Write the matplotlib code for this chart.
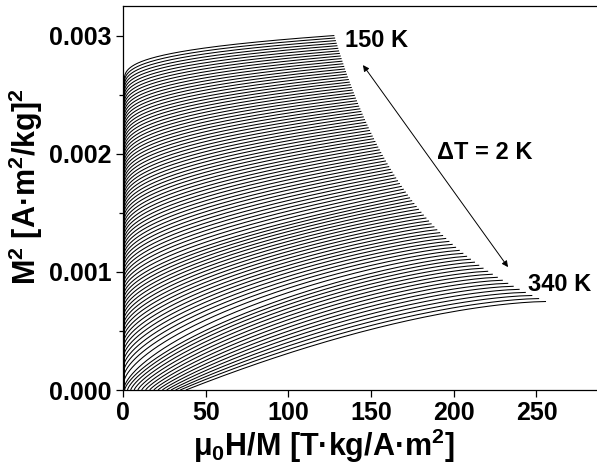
import numpy as np
import matplotlib
matplotlib.use("Agg")
import matplotlib.pyplot as plt
from matplotlib.ticker import FixedLocator, MultipleLocator

plt.rcParams['font.family'] = ['Liberation Sans', 'DejaVu Sans']
plt.rcParams['font.weight'] = 'bold'
plt.rcParams['mathtext.fontset'] = 'custom'
plt.rcParams['mathtext.rm'] = 'Liberation Sans:bold'
plt.rcParams['mathtext.it'] = 'Liberation Sans:bold'
plt.rcParams['mathtext.bf'] = 'Liberation Sans:bold'

# ---------------- data ----------------
temps_K = list(range(150, 342, 2))          # 96 isotherms, dT = 2 K
mu0H_max_T = 7.0                            # last field point of every isotherm

# M^2 at 7 T  [1e-4 (A m2/kg)^2]
m2_7T = [30.00, 29.79, 29.57, 29.35, 29.14, 28.92, 28.70, 28.49, 28.27, 28.05,
         27.83, 27.61, 27.39, 27.17, 26.95, 26.73, 26.50, 26.28, 26.06, 25.84,
         25.61, 25.39, 25.16, 24.94, 24.71, 24.48, 24.26, 24.03, 23.80, 23.58,
         23.35, 23.12, 22.89, 22.66, 22.43, 22.20, 21.97, 21.73, 21.50, 21.27,
         21.04, 20.80, 20.57, 20.33, 20.10, 19.86, 19.63, 19.39, 19.15, 18.91,
         18.68, 18.44, 18.20, 17.96, 17.72, 17.48, 17.24, 17.00, 16.76, 16.51,
         16.27, 16.03, 15.79, 15.54, 15.30, 15.05, 14.81, 14.56, 14.31, 14.07,
         13.82, 13.57, 13.32, 13.08, 12.83, 12.58, 12.33, 12.08, 11.82, 11.57,
         11.32, 11.07, 10.82, 10.56, 10.31, 10.05, 9.80, 9.54, 9.29, 9.03,
         8.78, 8.52, 8.26, 8.00, 7.74, 7.49]

# M^2 where the isotherm leaves the H/M ~ 0 axis  [1e-4 (A m2/kg)^2]
m2_start = [26.00, 25.72, 25.44, 25.16, 24.88, 24.60, 24.32, 24.03, 23.75, 23.47,
            23.18, 22.90, 22.61, 22.33, 22.04, 21.75, 21.46, 21.18, 20.89, 20.60,
            20.30, 20.01, 19.72, 19.43, 19.13, 18.84, 18.54, 18.25, 17.95, 17.65,
            17.35, 17.05, 16.75, 16.45, 16.15, 15.84, 15.54, 15.23, 14.93, 14.62,
            14.31, 14.00, 13.69, 13.37, 13.06, 12.74, 12.43, 12.11, 11.79, 11.47,
            11.14, 10.82, 10.49, 10.16, 9.83, 9.50, 9.17, 8.83, 8.49, 8.15,
            7.81, 7.46, 7.11, 6.76, 6.41, 6.05, 5.68, 5.32, 4.95, 4.57,
            4.19, 3.80, 3.40, 3.00, 2.59, 2.16, 1.72, 1.26, 0.76, 0.19,
            0, 0, 0, 0, 0, 0, 0, 0, 0, 0, 0, 0, 0, 0, 0, 0]

# H/M where the isotherm leaves M^2 = 0  [T kg / A m2]
hm_start = [0] * 80 + [0.98, 2.72, 4.67, 6.78, 9.01, 11.32, 13.70, 16.15,
                       18.66, 21.2, 23.8, 26.4, 29.1, 31.8, 34.6, 38.0]

# curvature of each isotherm (knee sharpness)
shape_k = [0.320, 0.325, 0.329, 0.334, 0.338, 0.343, 0.347, 0.352, 0.356, 0.361,
           0.365, 0.370, 0.374, 0.379, 0.383, 0.388, 0.392, 0.397, 0.401, 0.406,
           0.410, 0.415, 0.419, 0.424, 0.428, 0.433, 0.437, 0.442, 0.446, 0.451,
           0.455, 0.460, 0.464, 0.469, 0.473, 0.478, 0.482, 0.487, 0.491, 0.496,
           0.500, 0.505, 0.509, 0.514, 0.518, 0.523, 0.527, 0.532, 0.536, 0.541,
           0.545, 0.550, 0.554, 0.559, 0.563, 0.568, 0.572, 0.577, 0.581, 0.586,
           0.590, 0.595, 0.599, 0.604, 0.608, 0.613, 0.617, 0.622, 0.626, 0.631,
           0.635, 0.640, 0.644, 0.649, 0.653, 0.658, 0.662, 0.667, 0.671, 0.676,
           0.70, 0.72, 0.74, 0.76, 0.78, 0.80, 0.82, 0.84, 0.86, 0.88,
           0.90, 0.92, 0.94, 0.96, 0.98, 1.00]
shape_m = [1.0] * 60 + [1.015, 1.03, 1.045, 1.06, 1.075, 1.09, 1.105, 1.12, 1.135, 1.15,
                        1.165, 1.18, 1.195, 1.21, 1.225, 1.24, 1.255, 1.27, 1.285, 1.30,
                        1.30, 1.32, 1.34, 1.36, 1.38, 1.40, 1.42, 1.44, 1.46, 1.48,
                        1.50, 1.52, 1.54, 1.56, 1.58, 1.60]

x_ticks = [0, 50, 100, 150, 200, 250]
y_ticks = [0.000, 0.001, 0.002, 0.003]

# ---------------- figure ----------------
fig = plt.figure(figsize=(5.97, 4.72), dpi=100)
ax = fig.add_axes([123 / 597, 82 / 472, 1 - 123 / 597, 384 / 472])

t = np.concatenate([[0.0], np.geomspace(1e-6, 1.0, 400)])
for T, ye4, ys4, xs, k, m in zip(temps_K, m2_7T, m2_start, hm_start, shape_k, shape_m):
    ye = ye4 * 1e-4
    ys = ys4 * 1e-4
    xe = mu0H_max_T / np.sqrt(ye)
    x0 = xs if xs > 0 else 0.7
    f = 1.0 - (1.0 - t ** k) ** m
    x = x0 + t * (xe - x0)
    y = ys + (ye - ys) * f
    if ys > 0:
        x = np.concatenate([[x0], x])
        y = np.concatenate([[0.0], y])
    ax.plot(x, y, color='black', lw=0.75, solid_capstyle='butt')

ax.set_xlim(0, 286.6)
ax.set_ylim(0, 0.00325)
ax.xaxis.set_major_locator(FixedLocator(x_ticks))
ax.yaxis.set_major_locator(FixedLocator(y_ticks))
ax.yaxis.set_minor_locator(MultipleLocator(0.0005))
ax.set_yticklabels(['%.3f' % v for v in y_ticks])
ax.set_xticklabels([str(v) for v in x_ticks])
ax.tick_params(axis='both', which='major', direction='out', length=5, width=0.9,
               labelsize=18, pad=3)
ax.tick_params(axis='y', which='minor', direction='out', length=3, width=0.9)
for lab in ax.get_xticklabels() + ax.get_yticklabels():
    lab.set_fontweight('bold')
ax.spines['right'].set_visible(False)
for s in ('left', 'bottom', 'top'):
    ax.spines[s].set_linewidth(0.9)

ax.set_xlabel('\u03bc$_0$H/M [T\u00b7kg/A\u00b7m$^2$]', fontsize=22, fontweight='bold')
ax.set_ylabel('M$^2$ [A\u00b7m$^2$/kg]$^2$', fontsize=22, fontweight='bold')
ax.xaxis.set_label_coords(0.423, -0.096)
ax.yaxis.set_label_coords(-0.165, 0.531)

ax.text(134.5, 0.00296, '150 K', fontsize=17, fontweight='bold', va='center', ha='left')
ax.text(190.0, 0.00201, '\u0394T = 2 K', fontsize=17, fontweight='bold', va='center', ha='left')
ax.text(245.0, 0.000897, '340 K', fontsize=17, fontweight='bold', va='center', ha='left')
ax.annotate('', xy=(145.1, 0.00275), xytext=(232.8, 0.00104),
            arrowprops=dict(arrowstyle='<|-|>', color='black', lw=0.7,
                            mutation_scale=9, shrinkA=0, shrinkB=0))

fig.savefig('out.png', dpi=100)
